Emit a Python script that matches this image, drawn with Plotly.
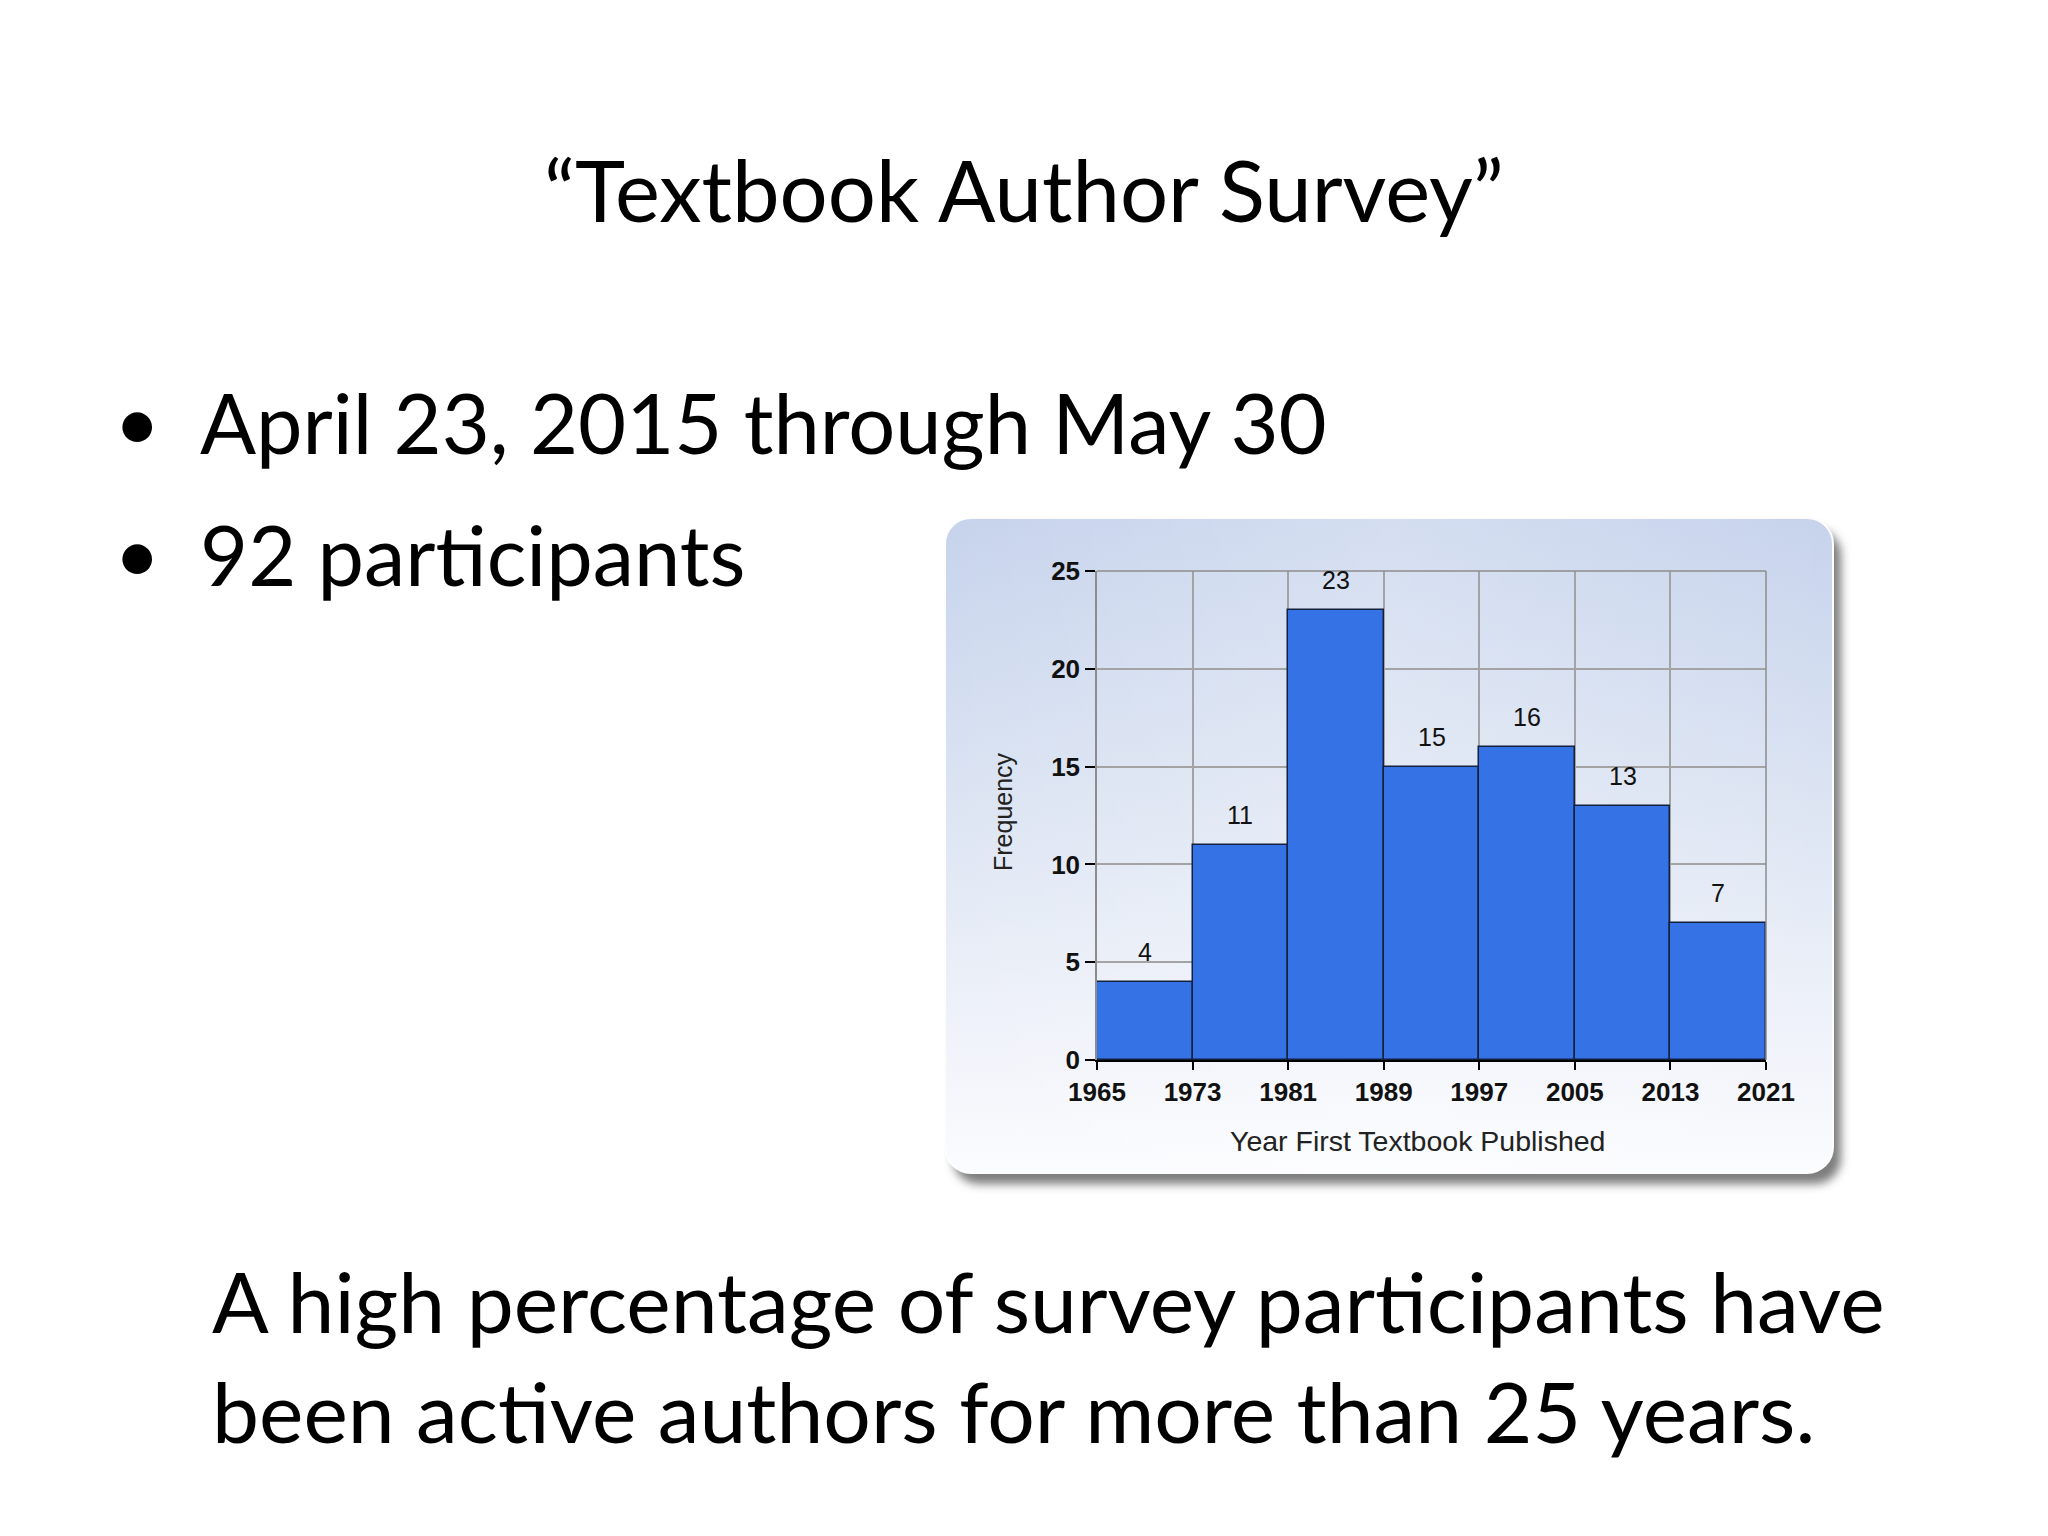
import base64
import plotly.graph_objects as go

# ---- data ----
bin_edges = [1965, 1973, 1981, 1989, 1997, 2005, 2013, 2021]
counts = [4, 11, 23, 15, 16, 13, 7]
y_ticks = [0, 5, 10, 15, 20, 25]

title_text = "\u201cTextbook Author Survey\u201d"
bullets = ["April 23, 2015 through May 30", "92 participants"]
conclusion = ["A high percentage of survey participants have",
              "been active authors for more than 25 years."]
x_title = "Year First Textbook Published"
y_title = "Frequency"

W, H = 2048, 1536
OFF = 8  # page body margin compensation
def px(x):
    return (x - OFF) / W
def py(y):
    return 1 - (y - OFF) / H

centers = [(a + b) / 2 for a, b in zip(bin_edges[:-1], bin_edges[1:])]
widths = [b - a for a, b in zip(bin_edges[:-1], bin_edges[1:])]

# panel background (rounded, gradient, drop shadow)
PW, PH = 888, 655
svg = f"""<svg xmlns='http://www.w3.org/2000/svg' width='{PW+30}' height='{PH+34}' viewBox='0 0 {PW+30} {PH+34}'>
<defs>
<linearGradient id='g' x1='0' y1='0' x2='0' y2='1'>
<stop offset='0' stop-color='#c6d3ec'/>
<stop offset='0.45' stop-color='#dde5f3'/>
<stop offset='0.85' stop-color='#f3f5fb'/>
<stop offset='1' stop-color='#fbfcfe'/>
</linearGradient>
<linearGradient id='h' x1='0' y1='0' x2='1' y2='0'>
<stop offset='0' stop-color='#ffffff' stop-opacity='0'/>
<stop offset='0.5' stop-color='#ffffff' stop-opacity='0.25'/>
<stop offset='1' stop-color='#ffffff' stop-opacity='0'/>
</linearGradient>
<filter id='s' x='-10%' y='-10%' width='125%' height='125%'><feGaussianBlur stdDeviation='5'/></filter>
</defs>
<rect x='9' y='12' width='{PW}' height='{PH}' rx='26' fill='#7d7d7d' filter='url(#s)'/>
<rect x='1' y='1' width='{PW}' height='{PH}' rx='26' fill='url(#g)' stroke='#fdfdfe' stroke-width='2'/>
<rect x='1' y='1' width='{PW}' height='{PH}' rx='26' fill='url(#h)'/>
</svg>"""
src = "data:image/svg+xml;base64," + base64.b64encode(svg.encode()).decode()

fig = go.Figure()
fig.add_trace(go.Bar(
    x=centers, y=counts, width=widths,
    marker=dict(color="#3572e6", line=dict(color="#14213d", width=1.5)),
    hoverinfo="x+y", showlegend=False,
))

# plot area in pixels
L, R, T, B = 1097, 1766, 571, 1060

TICKFONT = dict(family="Liberation Sans Narrow, Liberation Sans", size=26,
                color="#111111", weight="bold")

fig.update_layout(
    template="none",
    width=W, height=H, autosize=False,
    margin=dict(l=0, r=0, t=0, b=0, pad=0, autoexpand=False),
    paper_bgcolor="white",
    plot_bgcolor="white",
    bargap=0,
    showlegend=False,
    xaxis=dict(
        domain=[px(L), px(R)], range=[bin_edges[0], bin_edges[-1]],
        automargin=False,
        tickvals=bin_edges, ticktext=[str(v) for v in bin_edges],
        showgrid=True, gridcolor="#a3a3a3", gridwidth=1.5,
        showline=True, linecolor="#000000", linewidth=2,
        ticks="outside", ticklen=8, tickwidth=2, tickcolor="#000000",
        tickfont=TICKFONT,
        zeroline=False, fixedrange=True,
    ),
    yaxis=dict(
        domain=[py(B), py(T)], range=[0, 25],
        automargin=False,
        tickvals=y_ticks, ticktext=[str(v) for v in y_ticks],
        showgrid=True, gridcolor="#a3a3a3", gridwidth=1.5,
        showline=True, linecolor="#8c8c8c", linewidth=1.5,
        ticks="outside", ticklen=10, tickwidth=2, tickcolor="#000000",
        tickfont=TICKFONT,
        zeroline=False, fixedrange=True,
    ),
    images=[dict(
        source=src, xref="paper", yref="paper",
        x=px(944), y=py(517), sizex=(PW + 30) / W,
        sizey=(PH + 34) / H,
        xanchor="left", yanchor="top", sizing="stretch", layer="below",
    )],
)

# top and right plot borders
fig.add_shape(type="line", xref="x domain", yref="y domain", x0=0, x1=1, y0=1, y1=1,
              line=dict(color="#8c8c8c", width=1.5), layer="above")
fig.add_shape(type="line", xref="x domain", yref="y domain", x0=1, x1=1, y0=0, y1=1,
              line=dict(color="#8c8c8c", width=1.5), layer="above")

# data labels
for c, v in zip(centers, counts):
    fig.add_annotation(x=c, y=v, xref="x", yref="y", text=str(v), showarrow=False,
                       yanchor="middle", yshift=30,
                       font=dict(family="Liberation Sans", size=25, color="#111111"))

# axis titles
fig.add_annotation(x=px(1417), y=py(1141), xref="paper", yref="paper", text=x_title,
                   showarrow=False, xanchor="center", yanchor="middle",
                   font=dict(family="Liberation Sans", size=28.5, color="#222222"))
fig.add_annotation(x=px(1003), y=py(812), xref="paper", yref="paper", text=y_title,
                   showarrow=False, xanchor="center", yanchor="middle", textangle=-90,
                   font=dict(family="Liberation Sans", size=25, color="#222222"))

SLIDE_FONT = "Lato, Carlito, Open Sans, sans-serif"
# title
fig.add_annotation(x=px(1024), y=py(189), xref="paper", yref="paper", text=title_text,
                   showarrow=False, xanchor="center", yanchor="middle",
                   font=dict(family=SLIDE_FONT, size=85, color="#000000"))
# bullets
for txt, yc in zip(bullets, [422, 554]):
    fig.add_annotation(x=px(112), y=py(yc - 2), xref="paper", yref="paper", text="\u2022",
                       showarrow=False, xanchor="left", yanchor="middle",
                       font=dict(family=SLIDE_FONT, size=80, color="#000000"))
    fig.add_annotation(x=px(198), y=py(yc), xref="paper", yref="paper", text=txt,
                       showarrow=False, xanchor="left", yanchor="middle",
                       font=dict(family=SLIDE_FONT, size=83, color="#000000"))
# conclusion
for txt, yc in zip(conclusion, [1300, 1410]):
    fig.add_annotation(x=px(210), y=py(yc), xref="paper", yref="paper", text=txt,
                       showarrow=False, xanchor="left", yanchor="middle",
                       font=dict(family=SLIDE_FONT, size=84, color="#000000"))

fig.write_html("out.html", config={"displayModeBar": False})
